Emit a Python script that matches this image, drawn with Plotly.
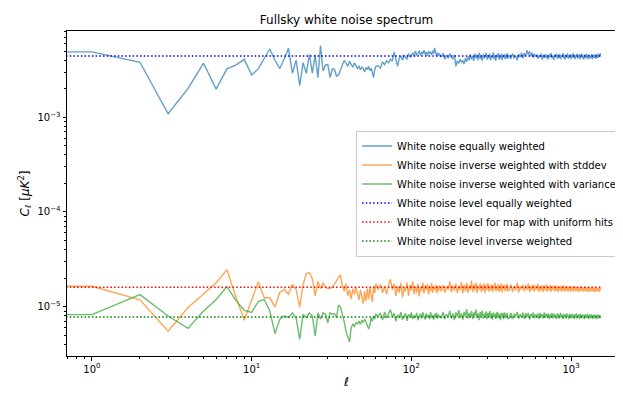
import numpy as np
import plotly.graph_objects as go

# multipoles: every l up to 60, then progressively thinned
ell = np.concatenate([np.arange(0, 61), np.arange(62, 151, 2),
                      np.arange(154, 403, 4), np.arange(410, 1531, 10)])

# White noise equally weighted  (units of 1e-5 uK^2)
cl_equal = [
    490, 490, 381, 109, 202, 372, 198, 324, 357, 409,
    280, 324, 420, 526, 400, 327, 413, 536, 292, 400,
    216, 378, 292, 462, 292, 455, 262, 572, 308, 357,
    360, 262, 324, 320, 272, 280, 315, 357, 400, 372,
    345, 390, 360, 338, 375, 352, 330, 345, 318, 340,
    325, 300, 335, 320, 345, 310, 330, 300, 262, 320, 345,
    # l = 62..150 step 2
    350, 330, 385, 360, 395, 375, 410, 390, 490, 420,
    345, 420, 440, 400, 455, 425, 410, 470, 430, 450,
    480, 440, 500, 455, 470, 505, 450, 490, 465, 510,
    460, 485, 445, 500, 470, 490, 455, 505, 470, 540,
    475, 440, 480, 450, 470,
    # l = 154..402 step 4
    430, 475, 410, 455, 420, 470, 430, 415, 455, 345,
    395, 370, 410, 380, 400, 365, 420, 385, 440, 400,
    460, 410, 445, 395, 470, 420, 455, 400, 480, 415,
    450, 395, 465, 420, 440, 480, 405, 455, 420, 470,
    400, 445, 425, 485, 410, 450, 395, 460, 430, 475,
    405, 445, 420, 470, 400, 450, 430, 465, 410, 455,
    420, 475, 415,
    # l = 410..1530 step 10
    455, 415, 470, 425, 445, 400, 465, 430, 480, 420,
    475, 445, 510, 460, 495, 440, 480, 425, 470, 435,
    460, 415, 450, 430, 470, 405, 455, 425, 465, 420,
    450, 410, 460, 430, 475, 420, 445, 405, 460, 435,
    470, 415, 455, 425, 465, 410, 450, 435, 475, 420,
    455, 405, 460, 430, 470, 415, 450, 425, 465, 410,
    455, 430, 475, 420, 460, 410, 450, 435, 470, 415,
    450, 425, 465, 410, 455, 430, 470, 420, 445, 405,
    460, 425, 455, 415, 470, 430, 450, 410, 460, 420,
    455, 415, 445, 425, 465, 410, 450, 430, 460, 420,
    450, 420, 465, 415, 455, 430, 470, 425, 450, 435,
    465, 440, 475,
]

# White noise inverse weighted with stddev  (units of 1e-7 uK^2)
cl_std = [
    164, 164, 118, 55, 98, 135, 179, 246, 124, 72,
    115, 182, 124, 124, 99, 141, 152, 135, 172, 152,
    99, 172, 223, 228, 199, 130, 185, 155, 179, 160,
    155, 155, 160, 172, 187, 205, 216, 165, 145, 175,
    130, 150, 120, 155, 135, 160, 140, 118, 150, 128,
    108, 145, 115, 155, 120, 160, 130, 112, 165, 140, 175,
    # l = 62..150 step 2
    150, 172, 140, 165, 135, 170, 195, 150, 175, 130,
    165, 140, 178, 125, 160, 145, 180, 130, 170, 148,
    185, 135, 165, 140, 175, 128, 162, 145, 180, 138,
    168, 150, 172, 135, 165, 145, 178, 140, 160, 150,
    170, 138, 165, 145, 168,
    # l = 154..402 step 4
    145, 170, 140, 165, 150, 185, 142, 168, 148, 175,
    140, 165, 150, 182, 138, 170, 145, 178, 140, 168,
    150, 188, 142, 172, 148, 180, 140, 165, 152, 176,
    143, 168, 148, 175, 140, 170, 150, 178, 144, 166,
    150, 172, 142, 168, 152, 180, 145, 165, 150, 174,
    143, 167, 149, 176, 141, 168, 152, 171, 145, 166,
    150, 175, 146,
    # l = 410..1530 step 10
    150, 172, 143, 166, 148, 178, 141, 164, 152, 170,
    145, 168, 150, 176, 142, 165, 149, 171, 144, 167,
    151, 174, 143, 163, 148, 169, 142, 166, 150, 172,
    144, 164, 149, 170, 143, 162, 151, 168, 145, 165,
    148, 167, 142, 161, 150, 166, 144, 163, 149, 168,
    143, 160, 150, 165, 145, 162, 148, 164, 142, 159,
    149, 163, 144, 160, 150, 165, 145, 158, 148, 162,
    143, 159, 149, 163, 146, 157, 150, 161, 144, 158,
    148, 162, 145, 157, 150, 160, 143, 158, 147, 161,
    144, 156, 149, 160, 145, 158, 148, 157, 143, 159,
    147, 156, 144, 158, 149, 155, 145, 157, 148, 156,
    144, 158, 150,
]

# White noise inverse weighted with variance  (units of 1e-8 uK^2)
cl_var = [
    823, 823, 1340, 797, 590, 900, 1190, 1630, 1150, 915,
    870, 1130, 1190, 900, 519, 734, 797, 770, 860, 760,
    452, 830, 770, 860, 797, 490, 860, 740, 860, 830,
    677, 860, 830, 845, 770, 1040, 990, 830, 690, 550,
    470, 425, 600, 650, 620, 680, 660, 700, 650, 720,
    680, 740, 690, 620, 580, 640, 760, 700, 800, 740, 830,
    # l = 62..150 step 2
    790, 860, 720, 880, 760, 840, 930, 780, 850, 700,
    820, 760, 880, 730, 800, 850, 710, 830, 770, 870,
    740, 810, 760, 860, 720, 800, 840, 750, 870, 790,
    730, 850, 770, 820, 740, 880, 760, 810, 730, 840,
    770, 860, 750, 820, 780,
    # l = 154..402 step 4
    760, 880, 740, 830, 790, 900, 750, 850, 720, 870,
    780, 920, 760, 850, 730, 880, 790, 940, 750, 860,
    770, 900, 740, 870, 800, 930, 760, 850, 720, 880,
    790, 910, 750, 840, 770, 890, 740, 860, 790, 900,
    750, 850, 730, 870, 780, 840, 740, 880, 770, 860,
    750, 830, 720, 860, 790, 850, 740, 870, 760, 840,
    780, 860, 750,
    # l = 410..1530 step 10
    760, 860, 740, 840, 790, 880, 750, 830, 770, 870,
    740, 850, 780, 860, 730, 840, 790, 870, 750, 830,
    770, 850, 740, 860, 790, 830, 750, 870, 760, 840,
    780, 850, 740, 830, 770, 860, 750, 840, 790, 820,
    740, 850, 770, 830, 750, 860, 780, 820, 740, 840,
    770, 830, 750, 850, 780, 820, 740, 840, 770, 830,
    750, 840, 780, 820, 740, 830, 770, 850, 750, 820,
    780, 830, 740, 840, 770, 820, 750, 830, 780, 810,
    740, 830, 770, 820, 750, 840, 780, 810, 740, 830,
    770, 820, 750, 830, 780, 810, 740, 820, 770, 830,
    750, 820, 780, 810, 740, 830, 770, 815, 750, 825,
    780, 810, 760,
]

level_equal = 4.43e-3
level_uniform = 1.60e-5
level_inverse = 7.79e-6

names = ["White noise equally weighted",
         "White noise inverse weighted with stddev",
         "White noise inverse weighted with variance",
         "White noise level equally weighted",
         "White noise level for map with uniform hits",
         "White noise level inverse weighted"]

y_equal = np.array(cl_equal) * 1e-5
y_std = np.array(cl_std) * 1e-7
y_var = np.array(cl_var) * 1e-8

# like matplotlib's log-scale clipping of non-positive values (l = 0)
x = np.where(ell > 0, ell, 1e-6).astype(float)

fig = go.Figure()
for yy, col, nm in [(y_equal, "rgba(31,119,180,0.7)", names[0]),
                    (y_std, "rgba(255,127,14,0.7)", names[1]),
                    (y_var, "rgba(44,160,44,0.7)", names[2])]:
    fig.add_trace(go.Scatter(x=x, y=yy, mode="lines", name=nm,
                             line=dict(color=col, width=1.4)))
for lvl, col, nm in [(level_equal, "#0000ff", names[3]),
                     (level_uniform, "#ff0000", names[4]),
                     (level_inverse, "#008000", names[5])]:
    fig.add_trace(go.Scatter(x=x, y=np.full(len(ell), lvl), mode="lines", name=nm,
                             line=dict(color=col, width=1.5, dash="1.5px,2.2px")))

xmaj = [1, 10, 100, 1000]
xmaj_txt = ["10<sup>0</sup>", "10<sup>1</sup>", "10<sup>2</sup>", "10<sup>3</sup>"]
xmin = [0.7, 0.8, 0.9] + [m * d for d in (1, 10, 100) for m in range(2, 10)] + [2000]
ymaj = [1e-5, 1e-4, 1e-3]
ymaj_txt = ["10<sup>\u22125</sup>", "10<sup>\u22124</sup>", "10<sup>\u22123</sup>"]
ymin = [m * d for d in (1e-6, 1e-5, 1e-4, 1e-3) for m in range(2, 10)]

axis_common = dict(showline=True, mirror=True, linecolor="black", linewidth=1,
                   ticks="outside", ticklen=3.5, tickwidth=0.8, tickcolor="black",
                   showgrid=False, zeroline=False, tickmode="array")

fig.update_xaxes(type="log", range=[-0.156, 3.344], tickvals=xmaj, ticktext=xmaj_txt,
                 minor=dict(tickmode="array", tickvals=xmin, ticks="outside", ticklen=2,
                            tickwidth=0.6, tickcolor="black", showgrid=False),
                 title=dict(text="<i>\u2113</i>", standoff=4), **axis_common)
fig.update_yaxes(type="log", range=[-5.521, -2.089], tickvals=ymaj, ticktext=ymaj_txt,
                 minor=dict(tickmode="array", tickvals=ymin, ticks="outside", ticklen=2,
                            tickwidth=0.6, tickcolor="black", showgrid=False),
                 title=dict(text="<i>C</i><sub><i>\u2113</i></sub> [<i>\u03bcK</i><sup>2</sup>]",
                            standoff=5), **axis_common)

fig.update_layout(
    width=623, height=393,
    margin=dict(l=58.5, r=4.5, t=23, b=45),
    paper_bgcolor="white", plot_bgcolor="white",
    font=dict(family="DejaVu Sans", size=10, color="black"),
    title=dict(text="Fullsky white noise spectrum", x=338.5 / 623, xanchor="center",
               y=1 - 12 / 393, yanchor="middle", font=dict(size=12)),
    legend=dict(x=0.993, y=0.5, xanchor="right", yanchor="middle",
                bgcolor="rgba(255,255,255,0.8)", bordercolor="#cccccc", borderwidth=1,
                font=dict(size=10), tracegroupgap=0, itemwidth=30),
    showlegend=True,
)

fig.write_html("out.html")
